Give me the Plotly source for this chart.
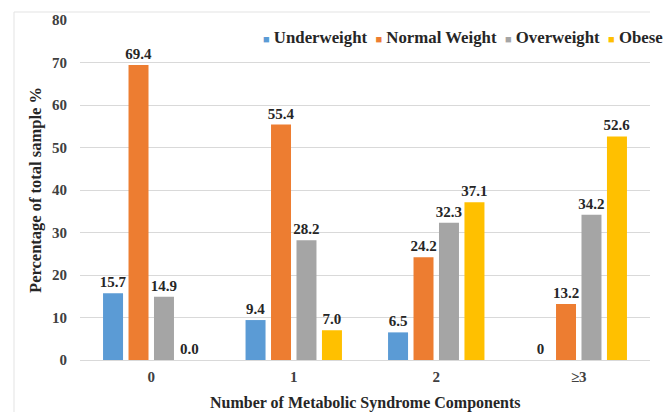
import plotly.graph_objects as go

# Share of sample in each BMI class by number of metabolic syndrome components
categories = ["0", "1", "2", "≥3"]
series_names = ["Underweight", "Normal Weight", "Overweight", "Obese"]
underweight = [15.7, 9.4, 6.5, 0]
normal_weight = [69.4, 55.4, 24.2, 13.2]
overweight = [14.9, 28.2, 32.3, 34.2]
obese = [0.0, 7.0, 37.1, 52.6]
underweight_labels = ["15.7", "9.4", "6.5", "0"]
normal_weight_labels = ["69.4", "55.4", "24.2", "13.2"]
overweight_labels = ["14.9", "28.2", "32.3", "34.2"]
obese_labels = ["0.0", "7.0", "37.1", "52.6"]
y_ticks = [0, 10, 20, 30, 40, 50, 60, 70, 80]

colors = ["#5B9BD5", "#ED7D31", "#A5A5A5", "#FFC000"]
serif = "Liberation Serif"
ink = "#262626"

fig = go.Figure()
for name, vals, labels, col in zip(
    series_names,
    [underweight, normal_weight, overweight, obese],
    [underweight_labels, normal_weight_labels, overweight_labels, obese_labels],
    colors,
):
    fig.add_trace(go.Bar(
        x=categories, y=vals, name=name,
        marker=dict(color=col, line=dict(width=0)),
        text=labels, texttemplate="<b>%{text}</b>",
        textposition="outside", constraintext="none",
        textfont=dict(family=serif, size=15, color=ink),
        cliponaxis=False, showlegend=False,
    ))

# Compact legend line: coloured squares followed by series names
legend_parts = [
    f"<span style='color:{c};font-size:11px'>■</span> <b>{n}</b>"
    for n, c in zip(series_names, colors)
]
legend_text = "&nbsp;&nbsp;".join(legend_parts)

fig.update_layout(
    width=671, height=412,
    margin=dict(l=80, r=21, t=20, b=52),
    paper_bgcolor="white", plot_bgcolor="white",
    barmode="group", bargap=0.285, bargroupgap=0.215,
    font=dict(family=serif, color="#404040"),
    annotations=[
        dict(text=legend_text, xref="paper", yref="paper",
             x=0.318, y=0.95, xanchor="left", yanchor="middle",
             showarrow=False,
             font=dict(family=serif, size=16.8, color=ink)),
        dict(text="<b>Number of Metabolic Syndrome Components</b>",
             xref="paper", yref="paper", x=0.5, y=-0.1265,
             xanchor="center", yanchor="middle", showarrow=False,
             font=dict(family=serif, size=16, color=ink)),
    ],
    shapes=[
        dict(type="line", xref="paper", yref="paper",
             x0=-0.1158, x1=-0.1158, y0=1.0235, y1=-0.16,
             line=dict(color="#E3E3E3", width=1)),
        dict(type="line", xref="paper", yref="paper",
             x0=-0.1158, x1=1.0, y0=1.0235, y1=1.0235,
             line=dict(color="#E3E3E3", width=1)),
    ],
)

fig.update_xaxes(
    type="category", showgrid=False, showline=True,
    linecolor="#D9D9D9", linewidth=1, ticks="",
    tickvals=categories, ticktext=[f"<b>{c}</b>" for c in categories],
    tickfont=dict(family=serif, size=15, color="#404040"),
    ticklabelstandoff=3, automargin=False,
)
fig.update_yaxes(
    range=[0, 80], tickvals=y_ticks,
    ticktext=[f"<b>{v}</b>" for v in y_ticks], showgrid=True,
    gridcolor="#D9D9D9", gridwidth=1, zeroline=False, showline=False,
    ticks="", ticklabelstandoff=12,
    tickfont=dict(family=serif, size=15, color="#404040"),
    title=dict(text="<b>Percentage of total sample %</b>",
               font=dict(family=serif, size=16.5, color=ink),
               standoff=6),
)

fig.write_html("out.html")
